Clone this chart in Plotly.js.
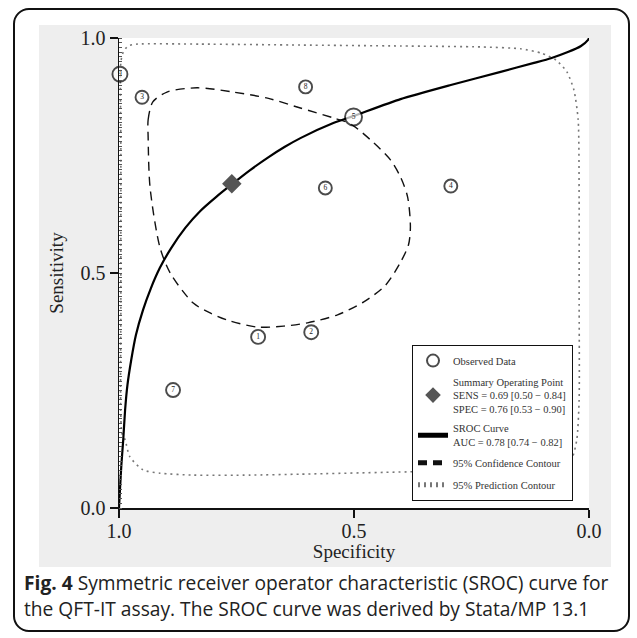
<!DOCTYPE html>
<html>
<head>
<meta charset="utf-8">
<script src="https://cdn.plot.ly/plotly-3.0.1.min.js"></script>
<style>
  html, body { margin: 0; padding: 0; background: #fff; }
  #wrap { position: relative; width: 637px; height: 638px; }
  #chart { position: absolute; left: 0; top: 0; width: 637px; height: 638px; }
  #frame { position: absolute; left: 13px; top: 8px; width: 617px; height: 624px;
           border: 2px solid #111; border-radius: 16px; pointer-events: none; box-sizing: border-box; }
</style>
</head>
<body>
<div id="wrap">
  <div id="chart"></div>
  <div id="frame"></div>
</div>
<script>
// ---- Observed studies ----
const obsSpec   = [0.704, 0.591, 0.951, 0.294, 0.501, 0.561, 0.885, 0.603, 0.998];
const obsSens   = [0.364, 0.374, 0.874, 0.685, 0.832, 0.681, 0.251, 0.896, 0.923];
const obsLabels = ['1', '2', '3', '4', '5', '6', '7', '8', '9'];

// ---- Summary operating point ----
const sumSpec = [0.76];
const sumSens = [0.69];

// ---- SROC curve ----
const srocSpec = [1.000, 0.998, 0.995, 0.991, 0.987, 0.982, 0.974, 0.964, 0.949, 0.932, 0.913, 0.889,
                  0.859, 0.827, 0.793, 0.757, 0.721, 0.684, 0.648, 0.614, 0.544, 0.501, 0.401, 0.294,
                  0.188, 0.117, 0.081, 0.045, 0.017, 0.002, 0.000];
const srocSens = [0.000, 0.038, 0.091, 0.145, 0.209, 0.262, 0.315, 0.368, 0.421, 0.468, 0.511, 0.553,
                  0.596, 0.632, 0.662, 0.691, 0.719, 0.745, 0.768, 0.787, 0.819, 0.834, 0.870, 0.900,
                  0.928, 0.947, 0.957, 0.970, 0.983, 0.996, 1.000];

// ---- 95% confidence contour ----
const confSpec = [0.938, 0.938, 0.928, 0.898, 0.834, 0.757, 0.684, 0.614, 0.544, 0.507, 0.458, 0.422,
                  0.401, 0.386, 0.380, 0.384, 0.401, 0.433, 0.480, 0.535, 0.599, 0.650, 0.706, 0.770,
                  0.806, 0.842, 0.891, 0.913, 0.934, 0.938];
const confSens = [0.789, 0.826, 0.864, 0.885, 0.894, 0.885, 0.872, 0.851, 0.830, 0.817, 0.777, 0.740,
                  0.704, 0.662, 0.598, 0.560, 0.523, 0.474, 0.438, 0.411, 0.394, 0.387, 0.385, 0.400,
                  0.415, 0.436, 0.500, 0.555, 0.683, 0.789];

// ---- 95% prediction contour ----
const predSpec = [0.994, 0.996, 0.996, 0.996, 0.991, 0.981, 0.962, 0.827, 0.614, 0.401, 0.230, 0.145,
                  0.102, 0.070, 0.047, 0.032, 0.023, 0.021, 0.021, 0.021, 0.026, 0.038, 0.070, 0.188,
                  0.380, 0.614, 0.721, 0.842, 0.913, 0.949, 0.977, 0.987, 0.994];
const predSens = [0.160, 0.443, 0.762, 0.949, 0.970, 0.983, 0.987, 0.987, 0.985, 0.983, 0.981, 0.977,
                  0.968, 0.953, 0.928, 0.889, 0.826, 0.655, 0.443, 0.230, 0.145, 0.102, 0.085, 0.081,
                  0.077, 0.072, 0.070, 0.070, 0.074, 0.081, 0.109, 0.145, 0.160];

// ---- Text ----
const tickVals = [0, 0.5, 1];
const legendNames = [
  'Observed Data',
  'Summary Operating Point<br>SENS = 0.69 [0.50 \u2212 0.84]<br>SPEC = 0.76 [0.53 \u2212 0.90]',
  'SROC Curve<br>AUC = 0.78 [0.74 \u2212 0.82]',
  '95% Confidence Contour',
  '95% Prediction Contour'
];
const xTitle = 'Specificity';
const yTitle = 'Sensitivity';
const captionLine1 = '<b>Fig. 4</b> Symmetric receiver operator characteristic (SROC) curve for';
const captionLine2 = 'the QFT-IT assay. The SROC curve was derived by Stata/MP 13.1';

const serif = 'Liberation Serif, Times New Roman, serif';
const sans = 'Open Sans, Noto Sans, sans-serif';

const traces = [
  { x: predSpec, y: predSens, type: 'scatter', mode: 'lines', name: legendNames[4], legendrank: 5,
    legendgroup: 'e', line: { color: '#777', width: 1.6, dash: '2px,4px', shape: 'spline', smoothing: 0.6 } },
  { x: confSpec, y: confSens, type: 'scatter', mode: 'lines', name: legendNames[3], legendrank: 4,
    legendgroup: 'd', line: { color: '#111', width: 1.4, dash: '9px,6px', shape: 'spline', smoothing: 0.8 } },
  { x: srocSpec, y: srocSens, type: 'scatter', mode: 'lines', name: legendNames[2], legendrank: 3,
    legendgroup: 'c', line: { color: '#000', width: 2.2, shape: 'spline', smoothing: 0.6 } },
  { x: obsSpec, y: obsSens, text: obsLabels, type: 'scatter', mode: 'markers+text', name: legendNames[0],
    legendrank: 1, legendgroup: 'a', cliponaxis: false, textposition: 'middle center',
    textfont: { family: serif, size: 7.5, color: '#222' },
    marker: { symbol: 'circle', color: '#fff', size: [14, 14, 13, 13, 17, 13, 14, 13, 15],
              line: { color: '#000', width: 1.9 } } },
  { x: sumSpec, y: sumSens, type: 'scatter', mode: 'markers', name: legendNames[1], legendrank: 2,
    legendgroup: 'b', marker: { symbol: 'diamond', color: '#555', size: 15, line: { width: 0 } } }
];

const layout = {
  width: 637, height: 638,
  margin: { l: 119, r: 48, t: 38, b: 130 },
  paper_bgcolor: '#fff',
  plot_bgcolor: '#fff',
  showlegend: true,
  hovermode: false,
  font: { family: serif, color: '#222' },
  xaxis: {
    range: [1, 0], tickvals: tickVals, tickformat: '.1f', showgrid: false, zeroline: false,
    showline: true, linecolor: '#111', linewidth: 1.5, ticks: 'outside', ticklen: 8,
    tickwidth: 1.5, tickcolor: '#111', tickfont: { family: serif, size: 20, color: '#222' },
    ticklabelstandoff: -4,
    title: { text: xTitle, font: { family: serif, size: 19, color: '#222' }, standoff: 4 }
  },
  yaxis: {
    range: [0, 1], tickvals: tickVals, tickformat: '.1f', showgrid: false, zeroline: false,
    showline: true, linecolor: '#111', linewidth: 1.5, ticks: 'outside', ticklen: 8,
    tickwidth: 1.5, tickcolor: '#111', tickfont: { family: serif, size: 20, color: '#222' },
    minor: { dtick: 0.01, ticks: 'inside', ticklen: 2.5, tickwidth: 1, tickcolor: '#555', showgrid: false },
    title: { text: yTitle, font: { family: serif, size: 19, color: '#222' }, standoff: 12 }
  },
  legend: {
    x: 0.623, y: 0.347, xanchor: 'left', yanchor: 'top',
    bgcolor: '#fff', bordercolor: '#111', borderwidth: 1.2,
    font: { family: serif, size: 10.5, color: '#333' },
    traceorder: 'grouped', itemsizing: 'constant', tracegroupgap: 3
  },
  shapes: [
    { type: 'rect', xref: 'paper', yref: 'paper', layer: 'below',
      x0: (39 - 119) / 470, x1: (611 - 119) / 470, y0: (508 - 567) / 470, y1: (508 - 25) / 470,
      fillcolor: '#eeeeee', line: { width: 0 } },
    { type: 'rect', xref: 'paper', yref: 'paper', layer: 'below',
      x0: 0, x1: 1, y0: 0, y1: 1, fillcolor: '#fff', line: { width: 0 } }
  ],
  annotations: [
    { xref: 'paper', yref: 'paper', x: (22 - 119) / 470, y: (508 - 582) / 470, xanchor: 'left', yanchor: 'middle',
      text: captionLine1, showarrow: false, align: 'left',
      font: { family: sans, size: 19.2, color: '#222' } },
    { xref: 'paper', yref: 'paper', x: (22 - 119) / 470, y: (508 - 608) / 470, xanchor: 'left', yanchor: 'middle',
      text: captionLine2, showarrow: false, align: 'left',
      font: { family: sans, size: 19.2, color: '#222' } }
  ]
};

Plotly.newPlot('chart', traces, layout, { staticPlot: true, displayModeBar: false });
</script>
</body>
</html>
